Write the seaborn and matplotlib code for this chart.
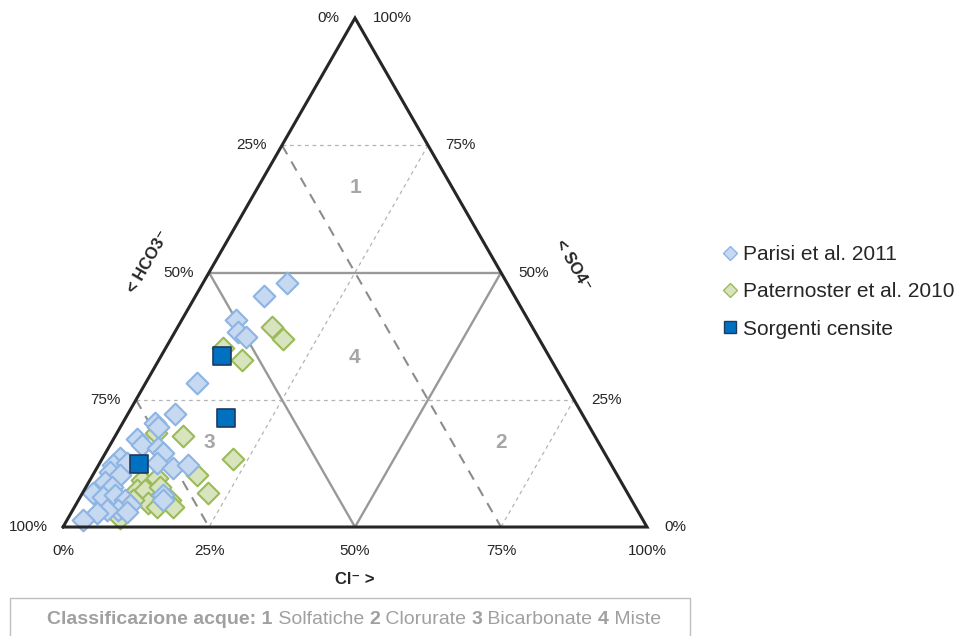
import numpy as np
import pandas as pd
import matplotlib
matplotlib.use("Agg")
import matplotlib.pyplot as plt
import matplotlib.transforms as mtransforms
from matplotlib.lines import Line2D
from matplotlib.patches import Rectangle
import seaborn as sns

# Compositions in % (HCO3- = 100 - Cl- - SO4--)
parisi_cl = [14.4, 11.7, 9.3, 10.9, 12.6, 8.8, 8.1, 5.6, 6.5, 4.1, 5.4, 8.5,
             9.8, 3.0, 2.5, 4.7, 9.8, 13.0, 15.3, 2.6, 4.7, 2.8, 4.5, 1.8,
             3.9, 5.8, 7.9, 9.3, 7.7, 5.8, 4.4, 13.9, 14.4, 2.7, 9.5]
parisi_so4 = [47.9, 45.4, 40.7, 38.3, 37.3, 28.3, 22.2, 20.4, 19.6, 17.3, 16.1, 15.5,
              14.5, 13.6, 12.2, 12.6, 12.6, 11.6, 12.2, 10.8, 10.2, 8.8, 7.9, 6.7,
              5.9, 6.3, 5.3, 4.3, 3.3, 3.3, 2.8, 6.3, 5.3, 1.4, 2.9]

pater_cl = [16.2, 19.2, 14.3, 9.8, 11.6, 6.6, 22.4, 17.8, 21.5, 8.9, 11.3,
            9.1, 10.4, 12.2, 14.1, 15.6, 16.8, 8.9, 12.7, 9.3]
pater_so4 = [39.3, 36.9, 32.8, 35.2, 17.9, 18.5, 13.4, 10.2, 6.7, 9.2, 9.6,
             7.3, 7.3, 4.7, 3.9, 5.3, 3.9, 1.8, 7.9, 5.3]

sorg_cl = [10.4, 17.2, 6.8]
sorg_so4 = [33.6, 21.4, 12.4]

tick_values = [0, 25, 50, 75, 100]
zone_labels = ["1", "2", "3", "4"]
series_names = ["Parisi et al. 2011", "Paternoster et al. 2010", "Sorgenti censite"]

sns.set_style("white")
plt.rcParams["font.family"] = ["Liberation Sans", "DejaVu Sans"]


def to_xy(cl, so4):
    """Ternary (Cl, SO4) -> plane coordinates (y is SO4 %)."""
    cl = np.asarray(cl, dtype=float)
    so4 = np.asarray(so4, dtype=float)
    return cl + so4 / 2.0, so4


def seg(ax, a, b, **kw):
    x, y = to_xy([a[0], b[0]], [a[1], b[1]])
    ax.plot(x, y, **kw)


fig = plt.figure(figsize=(9.6, 6.36), dpi=100)
ax = fig.add_axes([0, 0, 1, 1])
ax.set_xlim(-10.79, 153.60)
ax.set_ylim(-21.41, 103.54)
ax.axis("off")

# grid lines (points given as (Cl, SO4))
light = dict(color="#b4b4b4", lw=0.9, ls=(0, (3, 3)), zorder=1)
dark = dict(color="#8c8c8c", lw=1.5, ls=(0, (5, 4)), zorder=1)
seg(ax, (0, 75), (25, 75), **light)
seg(ax, (0, 25), (75, 25), **light)
seg(ax, (25, 75), (25, 0), **light)
seg(ax, (75, 25), (75, 0), **light)
seg(ax, (0, 75), (75, 0), **dark)
seg(ax, (0, 25), (25, 0), **dark)

# zone boundaries
inner = dict(color="#999999", lw=1.7, zorder=2, solid_joinstyle="miter")
seg(ax, (0, 50), (50, 50), **inner)
seg(ax, (0, 50), (50, 0), **inner)
seg(ax, (50, 50), (50, 0), **inner)

# outer triangle
tx, ty = to_xy([0, 100, 0, 0], [0, 0, 100, 0])
ax.plot(tx, ty, color="#262626", lw=2.2, zorder=6, solid_joinstyle="miter")

# zone numbers at centroids
zone_cl = [16.7, 66.7, 16.7, 33.3]
zone_so4 = [66.7, 16.7, 16.7, 33.3]
for lab, c, s in zip(zone_labels, zone_cl, zone_so4):
    x, y = to_xy(c, s)
    ax.text(x, y, lab, fontsize=15, fontweight="bold", color="#a6a6a6",
            ha="center", va="center", zorder=3)

# data
df_pa = pd.DataFrame(dict(zip(["x", "y"], to_xy(parisi_cl, parisi_so4))))
df_pt = pd.DataFrame(dict(zip(["x", "y"], to_xy(pater_cl, pater_so4))))
df_so = pd.DataFrame(dict(zip(["x", "y"], to_xy(sorg_cl, sorg_so4))))

blue_fill, blue_edge = "#c6d9f1", "#8db4e2"
green_fill, green_edge = "#d7e4bd", "#9bbb59"
sq_fill, sq_edge = "#0070c0", "#1f3a5f"

sns.scatterplot(data=df_pt, x="x", y="y", marker="D", s=122, color=green_fill,
                edgecolor=green_edge, linewidth=1.5, ax=ax, zorder=4, legend=False)
sns.scatterplot(data=df_pa, x="x", y="y", marker="D", s=122, color=blue_fill,
                edgecolor=blue_edge, linewidth=1.5, ax=ax, zorder=4.5, legend=False)
sns.scatterplot(data=df_so, x="x", y="y", marker="s", s=150, color=sq_fill,
                edgecolor=sq_edge, linewidth=1.2, ax=ax, zorder=5, legend=False)

# tick labels
tick_kw = dict(fontsize=11, color="#262626")
for v in tick_values:
    # left side: HCO3 (100 at bottom)
    x, y = to_xy(0, v)
    ax.text(x - 2.6, y, f"{100 - v}%", ha="right", va="center", **tick_kw)
    # right side: SO4
    x, y = to_xy(100 - v, v)
    ax.text(x + 3.0, y, f"{v}%", ha="left", va="center", **tick_kw)
    # bottom: Cl
    x, y = to_xy(v, 0)
    ax.text(x, -4.7, f"{v}%", ha="center", va="center", **tick_kw)

ax.text(50, -10.3, "Cl\u207b >", fontsize=12, fontweight="bold", ha="center", va="center")
ax.text(14.6, 52.1, "< HCO3\u207b", fontsize=12, fontweight="bold", rotation=60,
        ha="center", va="center", rotation_mode="anchor")
ax.text(87.3, 51.5, "< SO4\u207b", fontsize=12, fontweight="bold", rotation=-60,
        ha="center", va="center", rotation_mode="anchor")

# legend
handles = [
    Line2D([], [], ls="", marker="D", markersize=7, markerfacecolor=blue_fill,
           markeredgecolor=blue_edge, markeredgewidth=1),
    Line2D([], [], ls="", marker="D", markersize=7, markerfacecolor=green_fill,
           markeredgecolor=green_edge, markeredgewidth=1),
    Line2D([], [], ls="", marker="s", markersize=8, markerfacecolor=sq_fill,
           markeredgecolor=sq_edge, markeredgewidth=1),
]
fig.legend(handles, series_names, loc="upper left", bbox_to_anchor=(724 / 960, 1 - 245 / 636),
           frameon=False, fontsize=15, handlelength=0.6, handletextpad=0.3,
           labelspacing=0.88, borderpad=0, borderaxespad=0)

# footer box with mixed-weight caption
px = mtransforms.IdentityTransform()
fig.patches.append(Rectangle((10, -5), 680, 43, transform=px, fill=False,
                             edgecolor="#bfbfbf", lw=1, figure=fig))
parts = [("Classificazione acque: 1", "bold"), (" Solfatiche ", "normal"),
         ("2", "bold"), (" Clorurate ", "normal"), ("3", "bold"),
         (" Bicarbonate ", "normal"), ("4", "bold"), (" Miste", "normal")]
renderer = fig.canvas.get_renderer()
texts = []
for s, w in parts:
    t = fig.text(0, 16, s, transform=px, fontsize=14, fontweight=w,
                 color="#a0a0a0", ha="left", va="center")
    texts.append(t)
widths = [t.get_window_extent(renderer).width for t in texts]
x0 = 354 - sum(widths) / 2
for t, w in zip(texts, widths):
    t.set_x(x0)
    x0 += w

fig.savefig("out.png", dpi=100)
